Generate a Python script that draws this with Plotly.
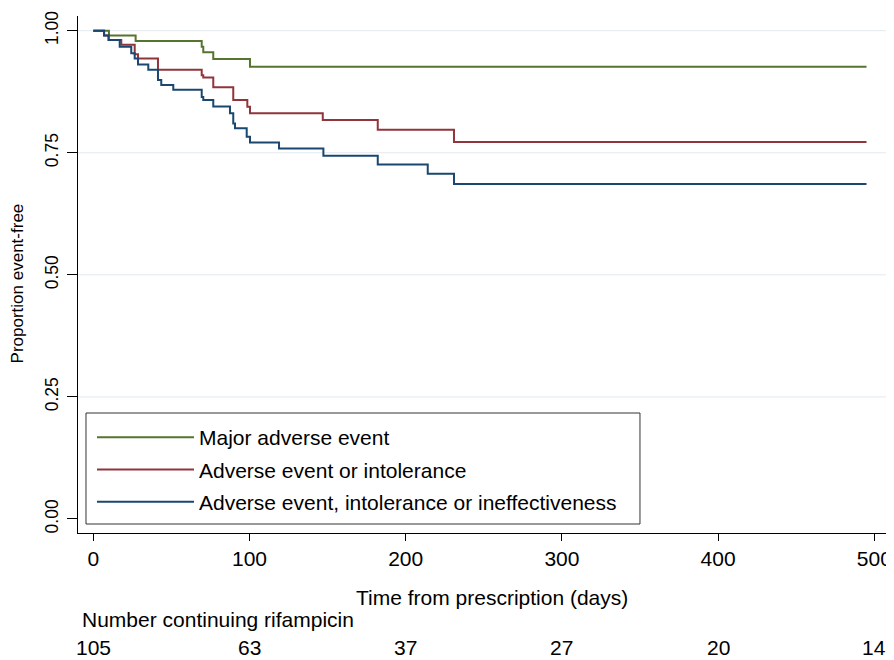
import plotly.graph_objects as go

# ---- data ----
series_names = ["Major adverse event", "Adverse event or intolerance",
                "Adverse event, intolerance or ineffectiveness"]

major_t = [0, 10.0, 27.1, 69.4, 70.4, 76.8, 100.3, 495]
major_s = [1.0, 0.990, 0.979, 0.967, 0.956, 0.942, 0.926, 0.926]

intol_t = [0, 6.9, 9.8, 17.9, 26.5, 28.6, 41.4, 69.4, 70.4, 76.8, 89.6, 98.6,
           100.3, 146.9, 182.1, 230.9, 495]
intol_s = [1.0, 0.990, 0.981, 0.971, 0.952, 0.943, 0.920, 0.909, 0.904, 0.884,
           0.858, 0.844, 0.831, 0.817, 0.797, 0.772, 0.772]

ineff_t = [0, 6.9, 9.8, 16.9, 24.3, 26.5, 28.6, 35.2, 41.4, 43.5, 51.2, 69.4,
           70.4, 76.8, 87.5, 89.6, 90.7, 98.2, 100.3, 118.9, 147.3, 182.1,
           214.1, 230.9, 495]
ineff_s = [1.0, 0.990, 0.981, 0.967, 0.954, 0.943, 0.931, 0.920, 0.899, 0.889,
           0.879, 0.864, 0.858, 0.845, 0.831, 0.810, 0.800, 0.783, 0.771, 0.759,
           0.744, 0.726, 0.707, 0.686, 0.686]

x_ticks = [0, 100, 200, 300, 400, 500]
y_ticks = [0.0, 0.25, 0.5, 0.75, 1.0]
y_tick_labels = ["0.00", "0.25", "0.50", "0.75", "1.00"]
grid_values = [0.25, 0.5, 0.75, 1.0]

at_risk_times = [0, 100, 200, 300, 400, 500]
at_risk_counts = [105, 63, 37, 27, 20, 14]

colors = ["#55752f", "#90353b", "#1a476f"]
FONT = "Liberation Sans, Arial, Helvetica, sans-serif"

fig = go.Figure()
for name, t, s, c in zip(series_names, [major_t, intol_t, ineff_t],
                         [major_s, intol_s, ineff_s], colors):
    fig.add_trace(go.Scatter(x=t, y=s, mode="lines", name=name,
                             legendgroup=name,
                             line=dict(color=c, width=2, shape="hv")))

for g in grid_values:
    fig.add_shape(type="line", xref="paper", x0=0, x1=1, yref="y", y0=g, y1=g,
                  line=dict(color="#e2eaee", width=1), layer="below")

# legend frame
fig.add_shape(type="rect", xref="paper", yref="paper",
              x0=0.0098, x1=0.6887, y0=0.0174, y1=0.2321,
              line=dict(color="#333333", width=1), fillcolor="white",
              layer="above")

# The browser page has an 8px body margin, so the figure is 8px smaller.
fig.update_layout(
    width=886, height=652,
    margin=dict(l=70, r=0, t=8, b=127),
    paper_bgcolor="white", plot_bgcolor="white",
    font=dict(family=FONT, size=21, color="black"),
    showlegend=True,
    legend=dict(x=0.01716, y=0.2244, xanchor="left", yanchor="top",
                bgcolor="rgba(0,0,0,0)", borderwidth=0,
                font=dict(size=21, color="black"), itemwidth=97,
                traceorder="grouped", tracegroupgap=2),
    xaxis=dict(range=[-9.8, 512.6], tickvals=x_ticks, showgrid=False,
               zeroline=False, showline=True, linecolor="black", linewidth=1,
               ticks="outside", ticklen=7, tickcolor="black",
               tickfont=dict(size=21, family=FONT)),
    yaxis=dict(range=[-0.0287, 1.0301], tickvals=y_ticks, ticktext=y_tick_labels,
               showgrid=False, zeroline=False, showline=True, linecolor="black",
               linewidth=1, ticks="outside", ticklen=10, tickcolor="black",
               tickangle=-90, ticklabelstandoff=2,
               tickfont=dict(size=17.5, family=FONT)),
)

fig.add_annotation(text="Proportion event-free", xref="paper", yref="paper",
                   x=-0.073, y=0.4836, xanchor="center", yanchor="middle",
                   textangle=-90, showarrow=False, font=dict(size=17))
fig.add_annotation(text="Time from prescription (days)", xref="paper", yref="paper",
                   x=0.507, y=-0.124, xanchor="center", yanchor="middle",
                   showarrow=False, font=dict(size=21))
fig.add_annotation(text="Number continuing rifampicin", xref="paper", yref="paper",
                   x=0.0025, y=-0.168, xanchor="left", yanchor="middle",
                   showarrow=False, font=dict(size=21))
for t, n in zip(at_risk_times, at_risk_counts):
    fig.add_annotation(text=str(n), xref="x", yref="paper", x=t, y=-0.2224,
                       xanchor="center", yanchor="middle", showarrow=False,
                       font=dict(size=21))

fig.write_html("out.html")
